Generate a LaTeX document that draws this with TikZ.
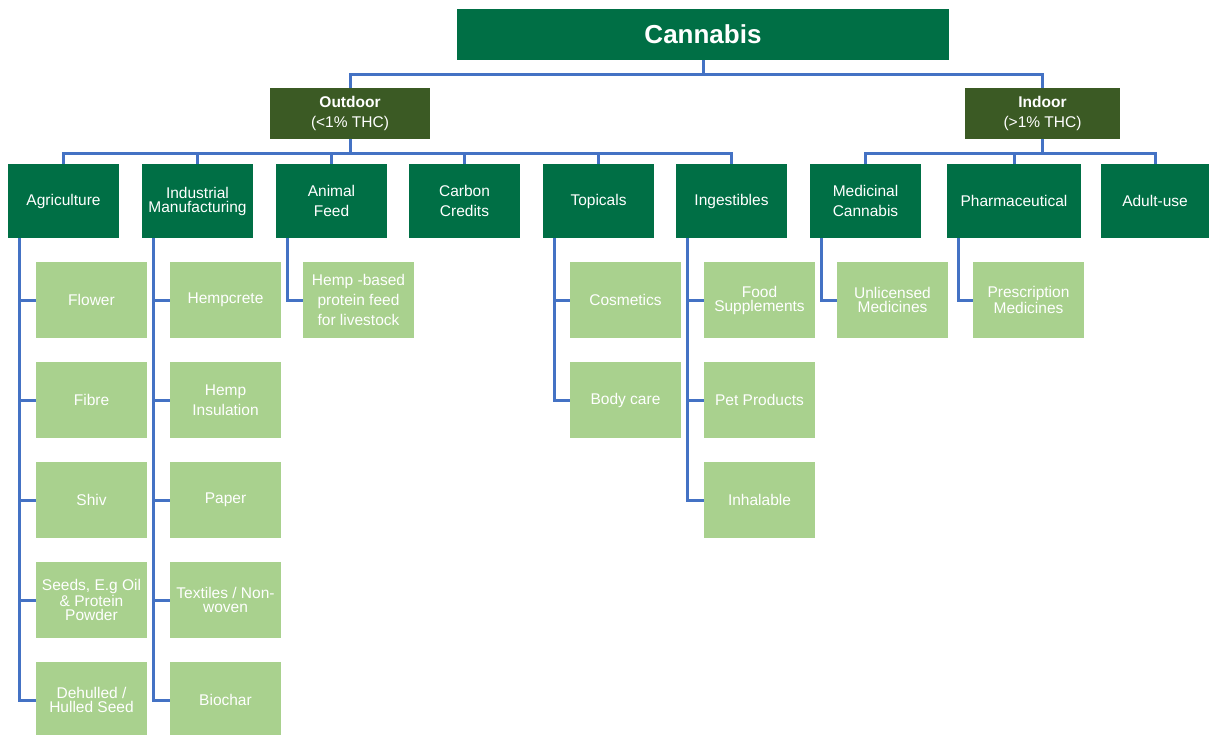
\documentclass[tikz,border=0pt]{standalone}
\usepackage{fontspec}
\setmainfont{Liberation Sans}
\usepackage{tikz}
\definecolor{cgreen}{HTML}{006F45}
\definecolor{colive}{HTML}{3B5A24}
\definecolor{clight}{HTML}{A9D18E}
\definecolor{cblue}{HTML}{4472C4}
\tikzstyle{rootbox}=[fill=cgreen,text=white,minimum width=492pt,minimum height=51pt,inner sep=1pt,font=\fontsize{26}{30}\selectfont\bfseries]
\tikzstyle{groupbox}=[fill=colive,text=white,minimum height=51pt,inner sep=1pt,align=center]
\tikzstyle{catbox}=[fill=cgreen,text=white,minimum width=111pt,minimum height=74pt,inner sep=1pt,align=center]
\tikzstyle{itembox}=[fill=clight,text=white,minimum width=111pt,minimum height=76pt,inner sep=1pt,align=center]
\tikzstyle{tight}=[font=\fontsize{15.5}{14}\selectfont]
\tikzstyle{link}=[draw=cblue,line width=3pt]

\begin{document}
\begin{tikzpicture}[x=1pt,y=-1pt,font=\fontsize{15.5}{20}\selectfont]
  \useasboundingbox (0,0) rectangle (1209,735);

  \node[rootbox] (cannabis) at (703,34.5) {Cannabis};
  \node[groupbox,minimum width=160pt] (outdoor) at (350,113.5) {{\bfseries Outdoor}\\(<1\% THC)};
  \node[groupbox,minimum width=155pt] (indoor) at (1042.5,113.5) {{\bfseries Indoor}\\(>1\% THC)};

  \node[catbox] (agri) at (63.5,201) {Agriculture};
  \node[catbox,tight] (indu) at (197.5,201) {Industrial\\Manufacturing};
  \node[catbox] (feed) at (331.5,201) {Animal\\Feed};
  \node[catbox] (carbon) at (464.5,201) {Carbon\\Credits};
  \node[catbox] (topic) at (598.5,201) {Topicals};
  \node[catbox] (inges) at (731.5,201) {Ingestibles};
  \node[catbox] (medic) at (865.5,201) {Medicinal\\Cannabis};
  \node[catbox,minimum width=134pt] (pharma) at (1014,201) {Pharmaceutical};
  \node[catbox,minimum width=108pt] (adult) at (1155,201) {Adult-use};

  \node[itembox] (flower) at (91.5,300) {Flower};
  \node[itembox] (fibre) at (91.5,400) {Fibre};
  \node[itembox] (shiv) at (91.5,500) {Shiv};
  \node[itembox,tight] (seeds) at (91.5,600) {Seeds, E.g Oil\\\& Protein\\Powder};
  \node[itembox,tight] (hulled) at (91.5,700) {Dehulled /\\Hulled Seed};

  \node[itembox] (hempcrete) at (225.5,300) {Hempcrete};
  \node[itembox] (insul) at (225.5,400) {Hemp\\Insulation};
  \node[itembox] (paper) at (225.5,500) {Paper};
  \node[itembox,tight] (textile) at (225.5,600) {Textiles / Non-\\woven};
  \node[itembox] (biochar) at (225.5,700) {Biochar};

  \node[itembox] (protein) at (358.5,300) {Hemp -based\\protein feed\\for livestock};

  \node[itembox] (cosmetic) at (625.5,300) {Cosmetics};
  \node[itembox] (body) at (625.5,400) {Body care};

  \node[itembox,tight] (food) at (759.5,300) {Food\\Supplements};
  \node[itembox] (pet) at (759.5,400) {Pet Products};
  \node[itembox] (inhal) at (759.5,500) {Inhalable};

  \node[itembox,tight] (unlic) at (892.5,300) {Unlicensed\\Medicines};
  \node[itembox,tight] (presc) at (1028.5,300) {Prescription\\Medicines};

  \draw[link] (cannabis.south) -- ++(0,14) coordinate (rootbar);
  \draw[link] (rootbar) -| (outdoor.north);
  \draw[link] (rootbar) -| (indoor.north);

  \draw[link] (outdoor.south) -- ++(0,14) coordinate (outbar);
  \foreach \n in {agri,indu,feed,carbon,topic,inges}
    \draw[link] (outbar) -| (\n.north);
  \draw[link] (indoor.south) -- ++(0,14) coordinate (inbar);
  \foreach \n in {medic,pharma,adult}
    \draw[link] (inbar) -| (\n.north);

  \foreach \p/\c in {agri/flower,agri/fibre,agri/shiv,agri/seeds,agri/hulled,
      indu/hempcrete,indu/insul,indu/paper,indu/textile,indu/biochar,
      feed/protein,topic/cosmetic,topic/body,inges/food,inges/pet,inges/inhal,
      medic/unlic,pharma/presc}
    \draw[link] ([xshift=12pt]\p.south west) |- (\c.west);
\end{tikzpicture}
\end{document}
